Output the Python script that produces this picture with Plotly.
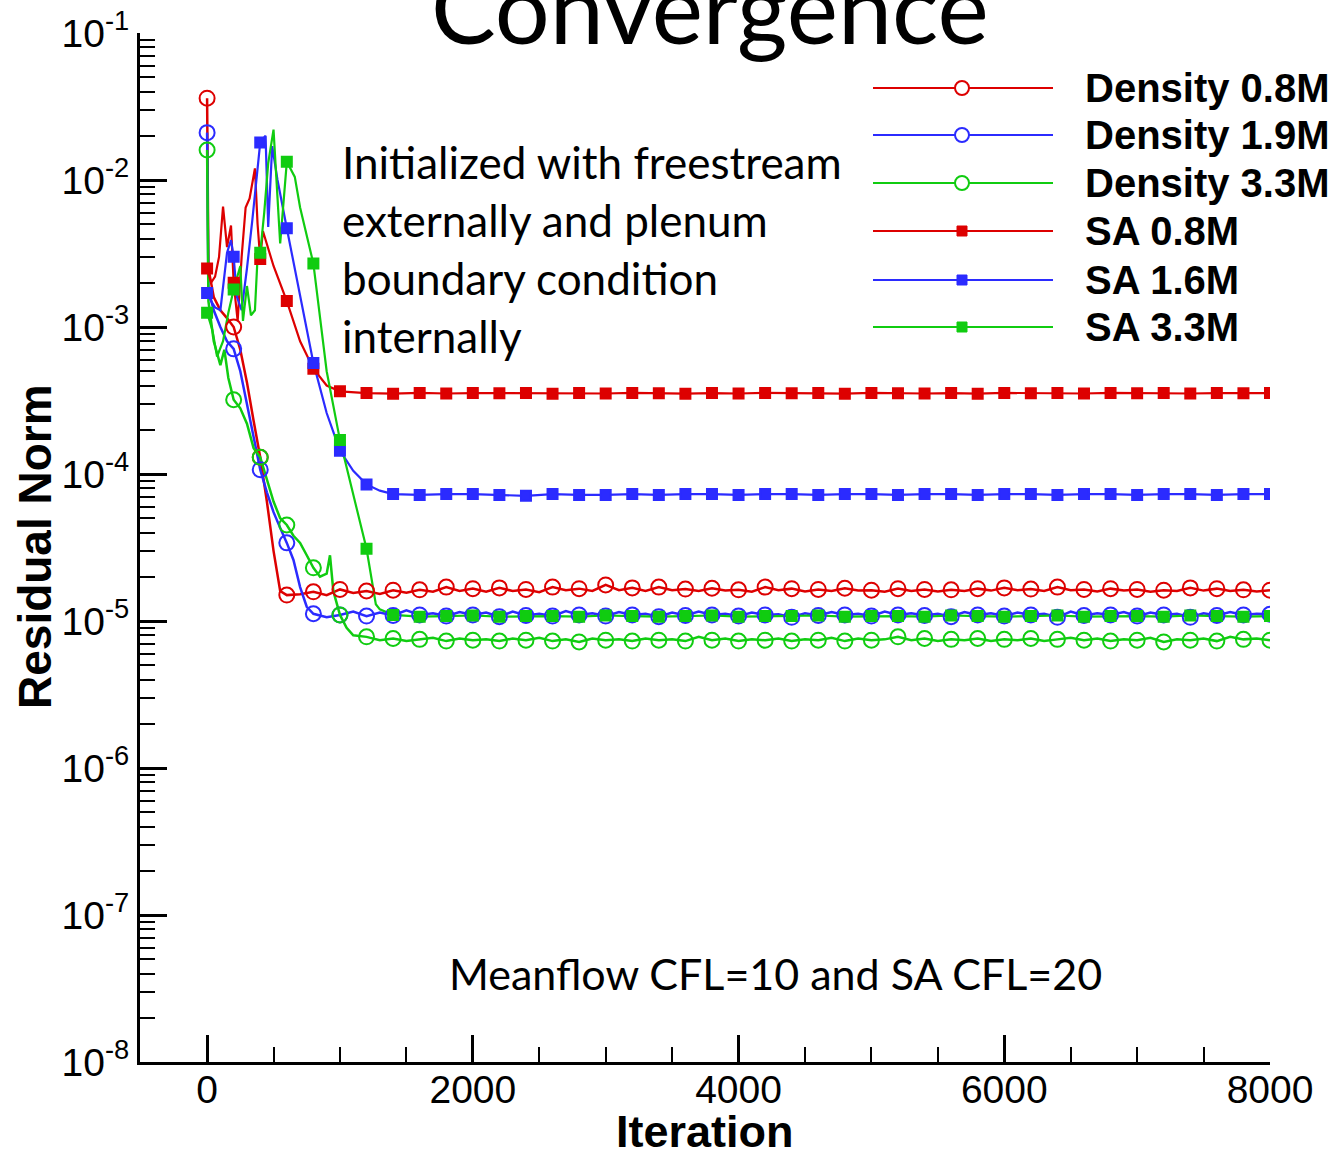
import plotly.graph_objects as go

# ---------------- data ----------------
# Density 0.8M
d08_iter = [0, 10, 50, 100, 150, 200, 250, 300, 350, 400, 450, 500, 550, 600] + list(range(700, 8001, 100))
d08_val = [3.6e-2, 2.5e-3, 1.6e-3, 1.3e-3, 1.15e-3, 1.0e-3, 7.0e-4, 4.2e-4, 2.3e-4, 1.3e-4, 6.5e-5, 3.0e-5, 1.6e-5, 1.5e-5,
           1.52e-5, 1.58e-5, 1.50e-5, 1.64e-5, 1.55e-5, 1.60e-5, 1.53e-5, 1.62e-5, 1.56e-5, 1.63e-5,
           1.58e-5, 1.70e-5, 1.60e-5, 1.66e-5, 1.58e-5, 1.68e-5, 1.60e-5, 1.64e-5, 1.57e-5, 1.70e-5,
           1.62e-5, 1.66e-5, 1.60e-5, 1.76e-5, 1.62e-5, 1.68e-5, 1.60e-5, 1.70e-5, 1.62e-5, 1.65e-5,
           1.60e-5, 1.67e-5, 1.61e-5, 1.63e-5, 1.58e-5, 1.70e-5, 1.62e-5, 1.66e-5, 1.59e-5, 1.64e-5,
           1.60e-5, 1.67e-5, 1.61e-5, 1.62e-5, 1.58e-5, 1.66e-5, 1.60e-5, 1.64e-5, 1.59e-5, 1.63e-5,
           1.60e-5, 1.66e-5, 1.61e-5, 1.68e-5, 1.62e-5, 1.65e-5, 1.60e-5, 1.70e-5, 1.62e-5, 1.64e-5,
           1.59e-5, 1.66e-5, 1.61e-5, 1.64e-5, 1.58e-5, 1.62e-5, 1.60e-5, 1.68e-5, 1.61e-5, 1.66e-5,
           1.60e-5, 1.63e-5, 1.59e-5, 1.62e-5]

# Density 1.9M
d19_iter = [0, 10, 50, 100, 150, 200, 250, 300, 350, 400, 450, 500, 550, 600, 650, 700, 750, 800, 900] + list(range(1000, 8001, 100))
d19_val = [2.1e-2, 1.8e-3, 1.3e-3, 1.0e-3, 8.0e-4, 7.1e-4, 5.0e-4, 3.0e-4, 1.7e-4, 1.07e-4, 7.5e-5, 5.5e-5, 4.3e-5, 3.4e-5,
           2.6e-5, 1.7e-5, 1.25e-5, 1.12e-5, 1.06e-5,
           1.10e-5, 1.16e-5, 1.08e-5, 1.14e-5, 1.09e-5, 1.18e-5, 1.10e-5, 1.13e-5, 1.08e-5, 1.15e-5,
           1.10e-5, 1.14e-5, 1.07e-5, 1.16e-5, 1.09e-5, 1.12e-5, 1.08e-5, 1.17e-5, 1.10e-5, 1.13e-5,
           1.08e-5, 1.15e-5, 1.10e-5, 1.12e-5, 1.07e-5, 1.14e-5, 1.09e-5, 1.16e-5, 1.10e-5, 1.12e-5,
           1.08e-5, 1.14e-5, 1.10e-5, 1.11e-5, 1.06e-5, 1.13e-5, 1.09e-5, 1.15e-5, 1.10e-5, 1.12e-5,
           1.08e-5, 1.16e-5, 1.10e-5, 1.13e-5, 1.09e-5, 1.12e-5, 1.07e-5, 1.15e-5, 1.10e-5, 1.13e-5,
           1.08e-5, 1.14e-5, 1.10e-5, 1.12e-5, 1.06e-5, 1.16e-5, 1.09e-5, 1.13e-5, 1.10e-5, 1.15e-5,
           1.08e-5, 1.14e-5, 1.10e-5, 1.12e-5, 1.06e-5, 1.13e-5, 1.09e-5, 1.15e-5, 1.10e-5, 1.12e-5,
           1.11e-5]

# Density 3.3M
d33_iter = [0, 10, 50, 100, 130, 160, 200, 250, 300, 350, 400, 450, 500, 550, 600, 650, 700, 750, 800, 850,
            900, 925, 950, 1000, 1050, 1100] + list(range(1200, 8001, 100))
d33_val = [1.6e-2, 1.5e-3, 8.0e-4, 5.5e-4, 7.0e-4, 4.5e-4, 3.2e-4, 2.8e-4, 2.2e-4, 1.5e-4, 1.3e-4, 9.0e-5, 6.5e-5,
           5.0e-5, 4.5e-5, 3.8e-5, 3.4e-5, 2.8e-5, 2.3e-5, 2.0e-5, 2.1e-5, 2.8e-5, 1.6e-5, 1.1e-5, 9.0e-6, 8.0e-6,
           7.8e-6, 7.4e-6, 7.6e-6, 7.3e-6, 7.5e-6, 7.7e-6, 7.3e-6, 7.6e-6, 7.4e-6, 7.5e-6,
           7.3e-6, 7.6e-6, 7.4e-6, 7.7e-6, 7.3e-6, 7.5e-6, 7.2e-6, 7.6e-6, 7.4e-6, 7.5e-6,
           7.3e-6, 7.6e-6, 7.4e-6, 7.5e-6, 7.3e-6, 7.8e-6, 7.4e-6, 7.6e-6, 7.3e-6, 7.5e-6,
           7.4e-6, 7.6e-6, 7.3e-6, 7.5e-6, 7.4e-6, 7.7e-6, 7.3e-6, 7.6e-6, 7.4e-6, 7.5e-6,
           7.8e-6, 7.4e-6, 7.6e-6, 7.3e-6, 7.5e-6, 7.4e-6, 7.6e-6, 7.3e-6, 7.5e-6, 7.4e-6,
           7.6e-6, 7.3e-6, 7.5e-6, 7.7e-6, 7.4e-6, 7.6e-6, 7.3e-6, 7.5e-6, 7.4e-6, 7.7e-6,
           7.2e-6, 7.5e-6, 7.4e-6, 7.6e-6, 7.3e-6, 7.8e-6, 7.5e-6, 7.6e-6, 7.4e-6]

# SA 0.8M
sa08_iter = [0, 30, 60, 90, 120, 150, 180, 200, 230, 260, 290, 320, 360, 380, 400, 420, 500, 600, 700, 800, 900] + list(range(1000, 8001, 200))
sa08_val = [2.5e-3, 2.0e-3, 2.2e-3, 3.0e-3, 6.6e-3, 3.5e-3, 4.9e-3, 2.0e-3, 1.1e-3, 3.0e-3, 6.5e-3, 7.5e-3, 1.2e-2,
            5.0e-3, 2.9e-3, 4.5e-3, 2.6e-3, 1.5e-3, 8.0e-4, 5.2e-4, 4.0e-4,
            3.65e-4, 3.55e-4, 3.52e-4, 3.56e-4, 3.53e-4, 3.55e-4, 3.54e-4, 3.56e-4, 3.52e-4, 3.55e-4,
            3.53e-4, 3.56e-4, 3.54e-4, 3.52e-4, 3.55e-4, 3.53e-4, 3.56e-4, 3.54e-4, 3.55e-4, 3.52e-4,
            3.56e-4, 3.54e-4, 3.53e-4, 3.55e-4, 3.52e-4, 3.56e-4, 3.54e-4, 3.55e-4, 3.53e-4, 3.56e-4,
            3.54e-4, 3.55e-4, 3.53e-4, 3.55e-4, 3.54e-4, 3.55e-4]

# SA 1.6M
sa16_iter = [0, 30, 60, 100, 150, 180, 200, 225, 260, 300, 340, 400, 440, 460, 490, 530, 600, 700, 800, 900,
             1000, 1100, 1200, 1300] + list(range(1400, 8001, 200))
sa16_val = [1.7e-3, 1.5e-3, 1.36e-3, 1.3e-3, 3.2e-3, 3.9e-3, 3.0e-3, 1.6e-3, 1.3e-3, 2.5e-3, 5.3e-3, 1.8e-2, 2.0e-2,
            4.8e-3, 1.7e-2, 1.0e-2, 4.7e-3, 1.6e-3, 5.7e-4, 2.6e-4, 1.44e-4, 1.05e-4, 8.5e-5, 7.7e-5,
            7.3e-5, 7.2e-5, 7.3e-5, 7.3e-5, 7.2e-5, 7.1e-5, 7.3e-5, 7.2e-5, 7.2e-5, 7.3e-5,
            7.2e-5, 7.3e-5, 7.3e-5, 7.2e-5, 7.3e-5, 7.3e-5, 7.2e-5, 7.3e-5, 7.3e-5, 7.2e-5,
            7.3e-5, 7.3e-5, 7.2e-5, 7.3e-5, 7.3e-5, 7.2e-5, 7.3e-5, 7.3e-5, 7.2e-5, 7.3e-5,
            7.3e-5, 7.2e-5, 7.3e-5, 7.3e-5]

# SA 3.3M
sa33_iter = [0, 40, 75, 120, 160, 200, 250, 270, 300, 330, 360, 380, 400, 430, 460, 500, 550, 600, 660, 700, 800,
             900, 1000, 1100, 1200, 1270, 1300] + list(range(1400, 8001, 200))
sa33_val = [1.25e-3, 9.5e-4, 6.3e-4, 8.0e-4, 1.25e-3, 1.8e-3, 2.6e-3, 1.1e-3, 1.9e-3, 1.2e-3, 1.3e-3, 3.0e-3,
            3.2e-3, 6.0e-3, 1.3e-2, 2.2e-2, 3.7e-3, 1.33e-2, 1.05e-2, 6.5e-3, 2.7e-3, 5.0e-4, 1.7e-4, 7.3e-5,
            3.1e-5, 1.3e-5, 1.2e-5,
            1.10e-5, 1.07e-5, 1.08e-5, 1.09e-5, 1.07e-5, 1.08e-5, 1.08e-5, 1.07e-5, 1.09e-5, 1.08e-5,
            1.07e-5, 1.08e-5, 1.09e-5, 1.07e-5, 1.08e-5, 1.08e-5, 1.09e-5, 1.07e-5, 1.08e-5, 1.08e-5,
            1.07e-5, 1.09e-5, 1.08e-5, 1.07e-5, 1.08e-5, 1.09e-5, 1.07e-5, 1.08e-5, 1.08e-5, 1.07e-5,
            1.09e-5, 1.08e-5, 1.07e-5, 1.08e-5]

series_names = ["Density 0.8M", "Density 1.9M", "Density 3.3M", "SA 0.8M", "SA 1.6M", "SA 3.3M"]
series_iters = [d08_iter, d19_iter, d33_iter, sa08_iter, sa16_iter, sa33_iter]
series_vals = [d08_val, d19_val, d33_val, sa08_val, sa16_val, sa33_val]

x_tickvals = [0, 2000, 4000, 6000, 8000]
x_ticktext = ["0", "2000", "4000", "6000", "8000"]
y_exponents = [-8, -7, -6, -5, -4, -3, -2, -1]

# ---------------- style ----------------
RED, BLUE, GREEN = "#dd0000", "#2b2bff", "#10cc10"
colors = [RED, BLUE, GREEN, RED, BLUE, GREEN]
symbols = ["circle-open", "circle-open", "circle-open", "square", "square", "square"]
msizes = [15, 15, 15, 10, 10, 10]
lwidths = [2.5, 2.5, 2.5, 2.2, 2.2, 2.2]
MARK_EVERY = 200

W, H = 1335, 1152
PL, PR, PT, PB = 140, 1270, 33, 1062


def px_x(px):
    return (px - PL) / (PR - PL)


def px_y(py):
    return (PB - py) / (PB - PT)


fig = go.Figure()

for name, it, v, c, lw in zip(series_names, series_iters, series_vals, colors, lwidths):
    assert len(it) == len(v), (name, len(it), len(v))
    fig.add_trace(go.Scatter(x=it, y=v, mode="lines", line=dict(color=c, width=lw),
                             name=name, showlegend=False, hoverinfo="skip"))

for name, it, v, c, s, ms in zip(series_names, series_iters, series_vals, colors, symbols, msizes):
    mx = [a for a in it if a % MARK_EVERY == 0]
    my = [b for a, b in zip(it, v) if a % MARK_EVERY == 0]
    fig.add_trace(go.Scatter(x=mx, y=my, mode="markers", name=name, showlegend=False,
                             marker=dict(symbol=s, size=ms, color=c, line=dict(color=c, width=2))))

TICKFONT = dict(family="Liberation Sans, Arial, sans-serif", size=39, color="black")

minor_x = [m for m in range(500, 8000, 500) if m % 2000 != 0]
minor_y = [k * 10.0 ** e for e in range(-8, -1) for k in range(2, 10)]

fig.update_xaxes(range=[-505, 8000], showline=True, linecolor="black", linewidth=3,
                 ticks="inside", ticklen=27, tickwidth=2.5, tickcolor="black",
                 tickmode="array", tickvals=x_tickvals, ticktext=x_ticktext, automargin=False,
                 ticklabelstandoff=-9,
                 tickfont=TICKFONT, showgrid=False, zeroline=False,
                 minor=dict(tickmode="array", tickvals=minor_x, ticks="inside",
                            ticklen=15, tickwidth=2, tickcolor="black", showgrid=False))
fig.update_yaxes(type="log", range=[-8, -1], showline=True, linecolor="black", linewidth=3,
                 ticks="inside", ticklen=27, tickwidth=2.5, tickcolor="black",
                 tickmode="array", tickvals=[10.0 ** e for e in y_exponents],
                 ticktext=["10<sup>%d</sup>" % e for e in y_exponents], automargin=False,
                 tickfont=TICKFONT, showgrid=False, zeroline=False,
                 minor=dict(tickmode="array", tickvals=minor_y, ticks="inside",
                            ticklen=15, tickwidth=2, tickcolor="black", showgrid=False))

annos = []
TXT = "Lato, Carlito, Open Sans, sans-serif"
annos.append(dict(x=px_x(710), y=px_y(6), xref="paper", yref="paper", text="Convergence",
                  showarrow=False, xanchor="center", yanchor="middle",
                  font=dict(family=TXT, size=97, color="black")))
for i, line in enumerate(["Initialized with freestream", "externally and plenum",
                          "boundary condition", "internally"]):
    annos.append(dict(x=px_x(340), y=px_y(162 + 58 * i), xref="paper", yref="paper", text=line,
                      showarrow=False, xanchor="left", yanchor="middle",
                      font=dict(family=TXT, size=44, color="black")))
annos.append(dict(x=px_x(775), y=px_y(973), xref="paper", yref="paper",
                  text="Meanflow CFL=10 and SA CFL=20", showarrow=False,
                  xanchor="center", yanchor="middle", font=dict(family=TXT, size=43, color="black")))
annos.append(dict(x=px_x(705), y=px_y(1131), xref="paper", yref="paper", text="<b>Iteration</b>",
                  showarrow=False, xanchor="center", yanchor="middle",
                  font=dict(family="Liberation Sans, Arial, sans-serif", size=45, color="black")))
annos.append(dict(x=px_x(35), y=px_y(547), xref="paper", yref="paper", text="<b>Residual Norm</b>",
                  showarrow=False, xanchor="center", yanchor="middle", textangle=-90,
                  font=dict(family="Liberation Sans, Arial, sans-serif", size=46, color="black")))

# manual legend
shapes = []
leg_rows = [88, 135, 183, 231, 280, 327]
for name, c, s, py in zip(series_names, colors, symbols, leg_rows):
    shapes.append(dict(type="line", xref="paper", yref="paper", x0=px_x(873), x1=px_x(1053),
                       y0=px_y(py), y1=px_y(py), line=dict(color=c, width=2.2)))
    if s == "circle-open":
        shapes.append(dict(type="circle", xref="paper", yref="paper", xsizemode="pixel", ysizemode="pixel",
                           xanchor=px_x(962), yanchor=px_y(py), x0=-7, x1=7, y0=-7, y1=7,
                           fillcolor="white", line=dict(color=c, width=2)))
    else:
        shapes.append(dict(type="rect", xref="paper", yref="paper", xsizemode="pixel", ysizemode="pixel",
                           xanchor=px_x(962), yanchor=px_y(py), x0=-5, x1=5, y0=-5, y1=5,
                           fillcolor=c, line=dict(color=c, width=1)))
    annos.append(dict(x=px_x(1083), y=px_y(py), xref="paper", yref="paper", text="<b>%s</b>" % name,
                      showarrow=False, xanchor="left", yanchor="middle",
                      font=dict(family="Liberation Sans, Arial, sans-serif", size=40, color="black")))

fig.update_layout(width=W, height=H, margin=dict(l=PL, r=W - PR, t=PT, b=H - PB, pad=0, autoexpand=False),
                  paper_bgcolor="white", plot_bgcolor="white", showlegend=False,
                  annotations=annos, shapes=shapes)

fig.write_html("out.html")
